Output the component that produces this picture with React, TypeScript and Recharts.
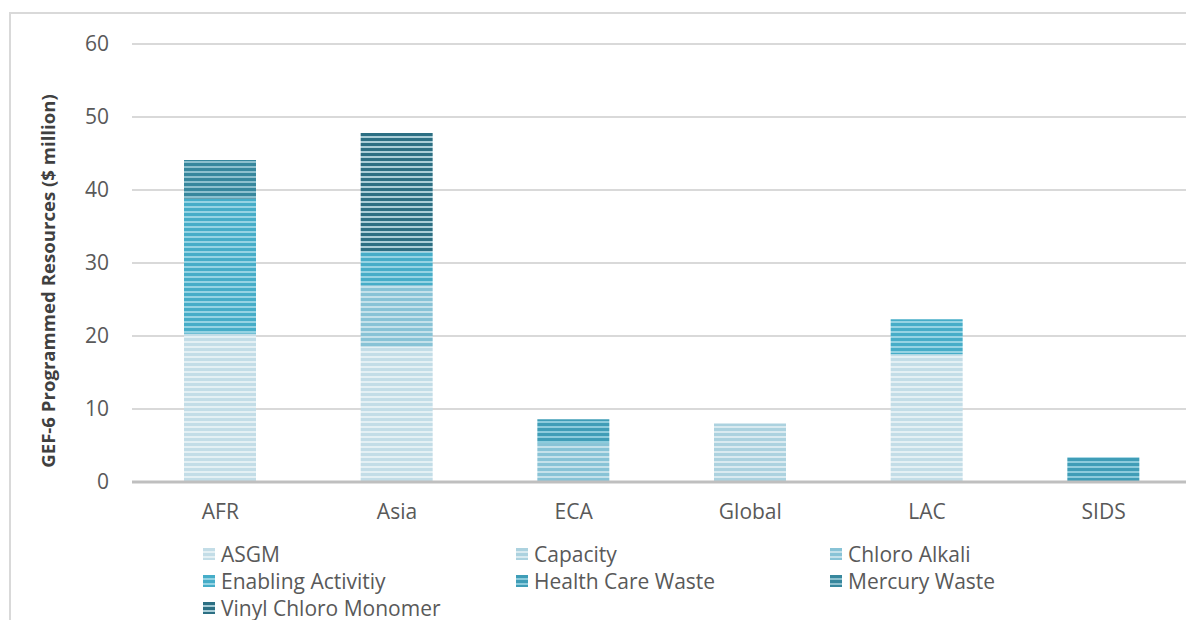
import React from "react";
import { Bar, BarChart, CartesianGrid, XAxis, YAxis, Label } from "recharts";

const regions = ["AFR", "Asia", "ECA", "Global", "LAC", "SIDS"];

const asgm = [20.3, 18.5, 0, 0, 17.5, 0];
const capacity = [0, 0, 0, 8.0, 0, 0];
const chloroAlkali = [0, 8.5, 5.3, 0, 0, 0];
const enablingActivity = [18.5, 4.5, 0, 0, 4.8, 0];
const healthCareWaste = [0, 0, 3.3, 0, 0, 3.4];
const mercuryWaste = [5.3, 0, 0, 0, 0, 0];
const vinylChloroMonomer = [0, 16.3, 0, 0, 0, 0];

const yTicks = [0, 10, 20, 30, 40, 50, 60];

const series = [
  { key: "ASGM", values: asgm, main: "#c3dde7", light: "#e4f0f4" },
  { key: "Capacity", values: capacity, main: "#acd2df", light: "#d9eaf0" },
  { key: "Chloro Alkali", values: chloroAlkali, main: "#88c3d6", light: "#c4e1ea" },
  { key: "Enabling Activitiy", values: enablingActivity, main: "#46adc8", light: "#95d3e3" },
  { key: "Health Care Waste", values: healthCareWaste, main: "#3f9db7", light: "#8ccbdc" },
  { key: "Mercury Waste", values: mercuryWaste, main: "#37879d", light: "#8dc0ce" },
  { key: "Vinyl Chloro Monomer", values: vinylChloroMonomer, main: "#2c6f83", light: "#a9cdd7" },
];

const data = regions.map((region, i) => {
  const row: Record<string, string | number> = { region };
  series.forEach((s) => {
    row[s.key] = s.values[i];
  });
  return row;
});

const patternId = (i: number) => `stripe-${i}`;

const FONT = "'Open Sans', sans-serif";

export default function App() {
  return (
    <div style={{ position: "relative", width: 1186, height: 612, overflow: "hidden", fontFamily: FONT }}>
      <div
        style={{
          position: "absolute",
          left: 1,
          top: 4,
          width: 1400,
          height: 800,
          border: "2px solid #d9d9d9",
          boxSizing: "border-box",
        }}
      />
      <svg width={0} height={0} style={{ position: "absolute" }}>
        <defs>
          {series.map((s, i) => (
            <pattern key={s.key} id={patternId(i)} patternUnits="userSpaceOnUse" width={8} height={5}>
              <rect x={0} y={0} width={8} height={5} fill={s.light} />
              <rect x={0} y={0} width={8} height={3} fill={s.main} />
            </pattern>
          ))}
        </defs>
      </svg>
      <div style={{ position: "absolute", left: 0, top: 0 }}>
        <BarChart
          width={1186}
          height={612}
          data={data}
          margin={{ top: 36, right: 2, left: 0, bottom: 98 }}
          barSize={72}
        >
          <CartesianGrid vertical={false} stroke="#d9d9d9" strokeWidth={2} />
          <XAxis
            dataKey="region"
            height={40}
            tickLine={false}
            axisLine={{ stroke: "#bfbfbf", strokeWidth: 3 }}
            tickSize={0}
            tickMargin={22}
            tick={{ fontSize: 21, fill: "#595959", fontFamily: FONT }}
          />
          <YAxis
            width={124}
            domain={[0, 60]}
            ticks={yTicks}
            axisLine={false}
            tickLine={false}
            tickSize={0}
            tickMargin={23}
            tick={{ fontSize: 21, fill: "#595959", fontFamily: FONT }}
          >
            <Label
              content={() => (
                <text
                  x={39}
                  y={273}
                  transform="rotate(-90 39 273)"
                  textAnchor="middle"
                  dominantBaseline="central"
                  fontSize={18.6}
                  fontWeight="bold"
                  fill="#404040"
                  fontFamily={FONT}
                >
                  GEF-6 Programmed Resources ($ million)
                </text>
              )}
            />
          </YAxis>
          {series.map((s, i) => (
            <Bar key={s.key} dataKey={s.key} stackId="a" fill={`url(#${patternId(i)})`} isAnimationActive={false} />
          ))}
        </BarChart>
      </div>
      <div
        style={{
          position: "absolute",
          left: 195,
          top: 532,
          display: "grid",
          gridTemplateColumns: "313px 314px 314px",
          gridAutoRows: "27px",
          fontSize: 21,
          color: "#595959",
        }}
      >
        {series.map((s, i) => (
          <div key={s.key} style={{ display: "flex", alignItems: "center", whiteSpace: "nowrap" }}>
            <svg width={12} height={12} style={{ marginRight: 6, flex: "none" }}>
              <rect x={0} y={0} width={12} height={12} fill={`url(#${patternId(i)})`} />
            </svg>
            <span>{s.key}</span>
          </div>
        ))}
      </div>
    </div>
  );
}
